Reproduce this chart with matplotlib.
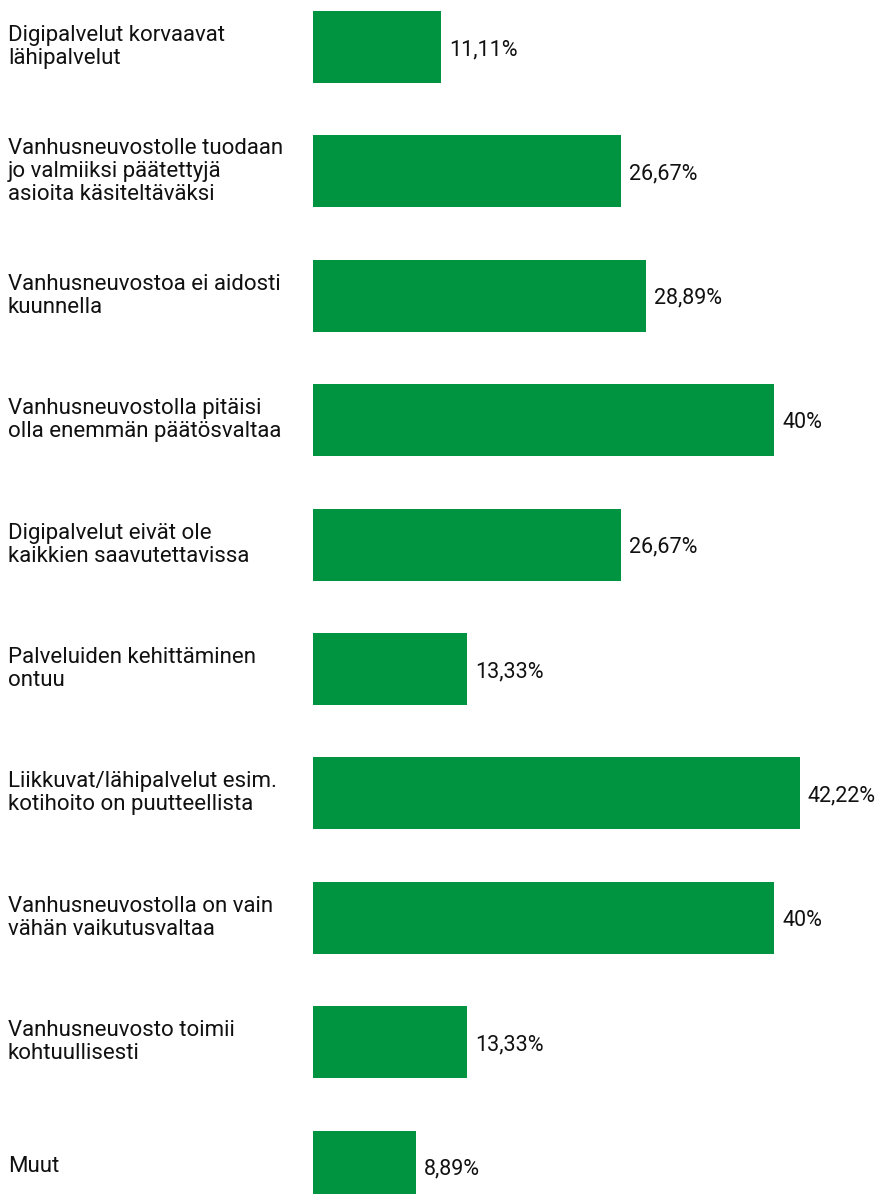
import matplotlib
matplotlib.use("Agg")
import matplotlib.pyplot as plt

categories = [
    "Digipalvelut korvaavat\nlähipalvelut",
    "Vanhusneuvostolle tuodaan\njo valmiiksi päätettyjä\nasioita käsiteltäväksi",
    "Vanhusneuvostoa ei aidosti\nkuunnella",
    "Vanhusneuvostolla pitäisi\nolla enemmän päätösvaltaa",
    "Digipalvelut eivät ole\nkaikkien saavutettavissa",
    "Palveluiden kehittäminen\nontuu",
    "Liikkuvat/lähipalvelut esim.\nkotihoito on puutteellista",
    "Vanhusneuvostolla on vain\nvähän vaikutusvaltaa",
    "Vanhusneuvosto toimii\nkohtuullisesti",
    "Muut",
]
values = [11.11, 26.67, 28.89, 40, 26.67, 13.33, 42.22, 40, 13.33, 8.89]
value_labels = ["11,11%", "26,67%", "28,89%", "40%", "26,67%",
                "13,33%", "42,22%", "40%", "13,33%", "8,89%"]

GREEN = "#009440"
W, H = 878, 1194
fig = plt.figure(figsize=(W / 100, H / 100), dpi=100)
plt.rcParams['font.family'] = ['Roboto', 'DejaVu Sans']

# axes: bars start at x=313 px, 42.22% ends at ~800 px
x0, x1 = 313 / W, 1.0
ax = fig.add_axes([x0, 0, x1 - x0, 1])
px_per_unit = (800 - 313) / 42.22
ax.set_xlim(0, (W - 313) / px_per_unit)

spacing = 124.4
ytop = -47 / spacing
ax.set_ylim(ytop + H / spacing, ytop)

pos = list(range(len(values)))
ax.barh(pos, values, height=72 / spacing, color=GREEN)
for p, v, lab in zip(pos, values, value_labels):
    ax.text(v + 8 / px_per_unit, p + 0.02, lab, va="center", ha="left",
            fontsize=15.5, color="#111111")
for p, cat in zip(pos, categories):
    ax.text(-305 / px_per_unit, p, cat, va="center", ha="left",
            fontsize=16, color="#111111", linespacing=1.12, clip_on=False)
ax.axis("off")

fig.savefig("out.png", dpi=100, facecolor="white")
